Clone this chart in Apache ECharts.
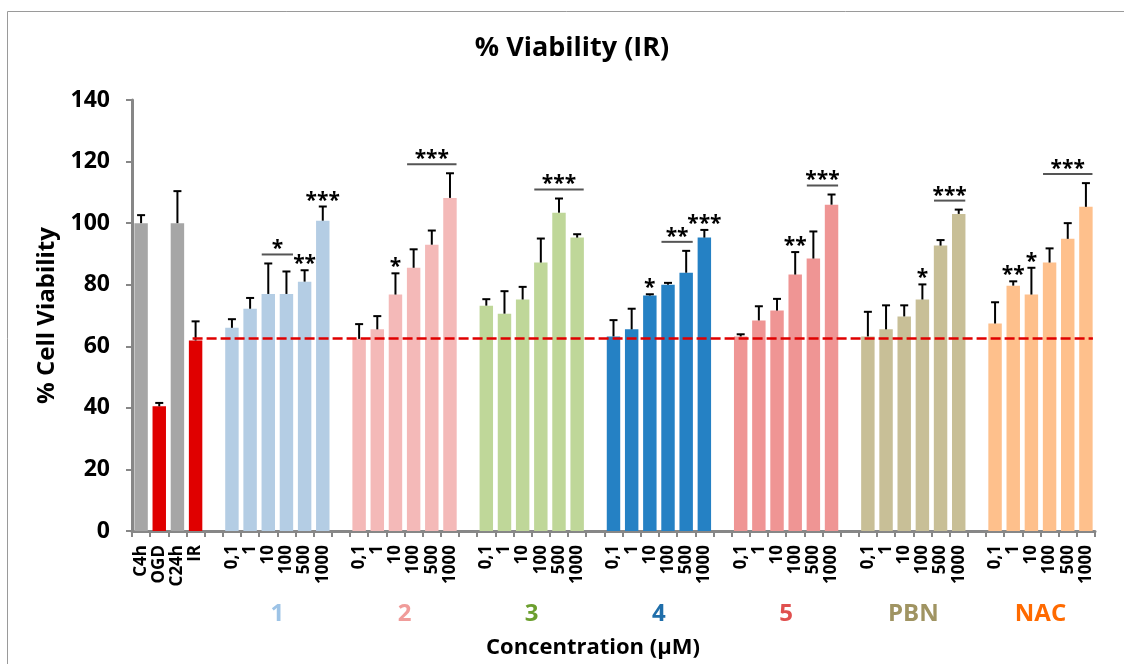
<!DOCTYPE html>
<html>
<head>
<meta charset="utf-8">
<script src="https://cdn.jsdelivr.net/npm/echarts@6/dist/echarts.min.js"></script>
<style>
html,body{margin:0;padding:0;background:#fff;}
#chart{width:1124px;height:664px;}
</style>
</head>
<body>
<div id="chart"></div>
<script>
// ---------- data ----------
const controlLabels = ['C4h', 'OGD', 'C24h', 'IR'];
const controlValues = [100.0, 40.5, 100.0, 61.9];
const controlErrors = [2.6, 1.1, 10.4, 6.2];

const concLabels = ['0,1', '1', '10', '100', '500', '1000'];
const groupNames = ['1', '2', '3', '4', '5', 'PBN', 'NAC'];

const g1Values = [66.0, 72.2, 77.0, 77.0, 81.0, 100.8];
const g1Errors = [2.8, 3.5, 9.9, 7.3, 3.7, 4.6];
const g2Values = [62.4, 65.5, 76.8, 85.5, 93.0, 108.2];
const g2Errors = [4.8, 4.3, 6.9, 6.0, 4.6, 8.0];
const g3Values = [73.2, 70.6, 75.2, 87.2, 103.4, 95.3];
const g3Errors = [2.1, 7.3, 4.1, 7.8, 4.6, 1.1];
const g4Values = [63.2, 65.5, 76.5, 80.0, 83.9, 95.3];
const g4Errors = [5.3, 6.7, 0.4, 0.6, 7.1, 2.5];
const g5Values = [63.2, 68.4, 71.6, 83.3, 88.5, 106.0];
const g5Errors = [0.7, 4.6, 3.8, 7.3, 8.8, 3.3];
const pbnValues = [63.2, 65.5, 69.7, 75.2, 92.7, 103.0];
const pbnErrors = [8.0, 7.8, 3.6, 4.9, 1.8, 1.4];
const nacValues = [67.4, 79.7, 76.8, 87.2, 94.9, 105.3];
const nacErrors = [6.9, 1.4, 8.7, 4.6, 5.1, 7.7];

const irReference = 62.5;

// significance: [group index, first bar, last bar, bracket line (1/0), label]
const significance = [
  [0, 2, 3, 1, '*'],
  [0, 4, 4, 0, '**'],
  [0, 5, 5, 0, '***'],
  [1, 2, 2, 0, '*'],
  [1, 3, 5, 1, '***'],
  [2, 3, 5, 1, '***'],
  [3, 2, 2, 0, '*'],
  [3, 3, 4, 1, '**'],
  [3, 5, 5, 0, '***'],
  [4, 3, 3, 0, '**'],
  [4, 4, 5, 1, '***'],
  [5, 3, 3, 0, '*'],
  [5, 4, 5, 1, '***'],
  [6, 1, 1, 0, '**'],
  [6, 2, 2, 0, '*'],
  [6, 3, 5, 1, '***']
];

// ---------- styles ----------
const controlColors = ['#a6a6a6', '#e00000', '#a6a6a6', '#e00000'];
const groupColors = ['#b4cde4', '#f4b9b8', '#bfd799', '#2581c4', '#ef9594', '#c8bf97', '#fec08c'];
const groupLabelColors = ['#9dc3e6', '#f09c9a', '#6c9f2f', '#1f6eaa', '#e0504f', '#a09462', '#ff6a00'];
const FONT = '"Open Sans", sans-serif';

// ---------- build ----------
const groupValues = [g1Values, g2Values, g3Values, g4Values, g5Values, pbnValues, nacValues];
const groupErrors = [g1Errors, g2Errors, g3Errors, g4Errors, g5Errors, pbnErrors, nacErrors];

const categories = [], barData = [], errData = [];
const groupStart = [];
controlLabels.forEach((l, i) => {
  categories.push(l);
  barData.push({value: controlValues[i], itemStyle: {color: controlColors[i]}});
  errData.push([categories.length - 1, controlValues[i], controlErrors[i]]);
});
groupNames.forEach((g, gi) => {
  categories.push('');
  barData.push(null);
  groupStart.push(categories.length);
  concLabels.forEach((c, ci) => {
    categories.push(c);
    barData.push({value: groupValues[gi][ci], itemStyle: {color: groupColors[gi]}});
    errData.push([categories.length - 1, groupValues[gi][ci], groupErrors[gi][ci]]);
  });
});
const lastIndex = categories.length - 1;

const sigData = significance.map(s => {
  const a = groupStart[s[0]] + s[1], b = groupStart[s[0]] + s[2];
  let top = 0;
  for (let k = s[1]; k <= s[2]; k++) top = Math.max(top, groupValues[s[0]][k] + groupErrors[s[0]][k]);
  return [a, b, top, s[3]];
});
const groupLabelData = groupNames.map((g, gi) => [groupStart[gi] + 2, groupStart[gi] + 3, 0]);

const chart = echarts.init(document.getElementById('chart'));
chart.setOption({
  animation: false,
  backgroundColor: '#fff',
  graphic: [
    {type: 'rect', shape: {x: 7.5, y: 11.5, width: 1300, height: 900},
     style: {fill: 'none', stroke: '#9a9a9a', lineWidth: 1}, z: -1},
    {type: 'text', x: 572, y: 48,
     style: {text: '% Viability (IR)', textAlign: 'center', textVerticalAlign: 'middle',
             font: 'bold 27px ' + FONT, fill: '#000'}},
    {type: 'text', x: 593, y: 648,
     style: {text: 'Concentration (µM)', textAlign: 'center', textVerticalAlign: 'middle',
             font: 'bold 22px ' + FONT, fill: '#000'}}
  ],
  grid: {left: 132, right: 29, top: 100, bottom: 133},
  xAxis: {
    type: 'category',
    data: categories,
    axisLine: {lineStyle: {color: '#878787', width: 3}},
    axisTick: {show: true, interval: 0, length: 6, lineStyle: {color: '#878787', width: 2}},
    axisLabel: {interval: 0, rotate: 90, margin: 14, fontFamily: FONT, fontWeight: 'bold', fontSize: 17, color: '#000'},
    splitLine: {show: false}
  },
  yAxis: {
    type: 'value', min: 0, max: 140, interval: 20,
    name: '% Cell Viability', nameLocation: 'middle', nameGap: 72,
    nameTextStyle: {fontFamily: FONT, fontWeight: 'bold', fontSize: 24, color: '#000'},
    axisLine: {show: true, lineStyle: {color: '#878787', width: 3}},
    axisTick: {show: true, length: 6, lineStyle: {color: '#878787', width: 2}},
    axisLabel: {margin: 22, fontFamily: FONT, fontWeight: 'bold', fontSize: 23, color: '#000'},
    splitLine: {show: false}
  },
  series: [
    {type: 'bar', data: barData, barWidth: '74%', z: 2},
    {
      type: 'custom', z: 3, clip: false,
      data: errData,
      encode: {x: 0, y: 1},
      renderItem: (params, api) => {
        const x = api.value(0), v = api.value(1), e = api.value(2);
        const p0 = api.coord([x, v]), p1 = api.coord([x, v + e]);
        const st = {stroke: '#000', lineWidth: 2};
        return {type: 'group', children: [
          {type: 'line', shape: {x1: p0[0], y1: p0[1], x2: p1[0], y2: p1[1]}, style: st},
          {type: 'line', shape: {x1: p1[0] - 4, y1: p1[1], x2: p1[0] + 4, y2: p1[1]}, style: st}
        ]};
      }
    },
    {
      type: 'custom', z: 4, clip: false,
      data: [[3, irReference, lastIndex]],
      encode: {x: 0, y: 1},
      renderItem: (params, api) => {
        const a = api.coord([api.value(0), api.value(1)]);
        const b = api.coord([api.value(2), api.value(1)]);
        return {type: 'line', shape: {x1: a[0] - 3, y1: a[1], x2: b[0] + 7, y2: b[1]},
                style: {stroke: '#e00000', lineWidth: 2.5, lineDash: [10, 4]}};
      }
    },
    {
      type: 'custom', z: 5, clip: false,
      data: sigData,
      encode: {x: 0, y: 2},
      renderItem: (params, api) => {
        const s = significance[params.dataIndex];
        const pa = api.coord([api.value(0), api.value(2)]);
        const pb = api.coord([api.value(1), api.value(2)]);
        const half = api.size([1, 0])[0] * 0.36;
        const cx = (pa[0] + pb[0]) / 2;
        const children = [];
        let ty;
        if (api.value(3)) {
          const ly = pa[1] - 9;
          children.push({type: 'line', shape: {x1: pa[0] - half, y1: ly, x2: pb[0] + half, y2: ly},
                         style: {stroke: '#555', lineWidth: 2}});
          ty = ly - 10;
        } else {
          ty = pa[1] - 11;
        }
        children.push({type: 'text', x: cx, y: ty + 5,
                       style: {text: s[4], textAlign: 'center', textVerticalAlign: 'middle',
                               font: 'bold 21px ' + FONT, fill: '#000'}});
        return {type: 'group', children};
      }
    },
    {
      type: 'custom', z: 5, clip: false,
      data: groupLabelData,
      encode: {x: 0, y: 2},
      renderItem: (params, api) => {
        const pl = api.coord([api.value(0), 0]);
        const pr = api.coord([api.value(1), 0]);
        return {type: 'text', x: (pl[0] + pr[0]) / 2, y: pl[1] + 83,
                style: {text: groupNames[params.dataIndex], textAlign: 'center', textVerticalAlign: 'middle',
                        font: 'bold 24px ' + FONT, fill: groupLabelColors[params.dataIndex]}};
      }
    }
  ]
});
</script>
</body>
</html>
